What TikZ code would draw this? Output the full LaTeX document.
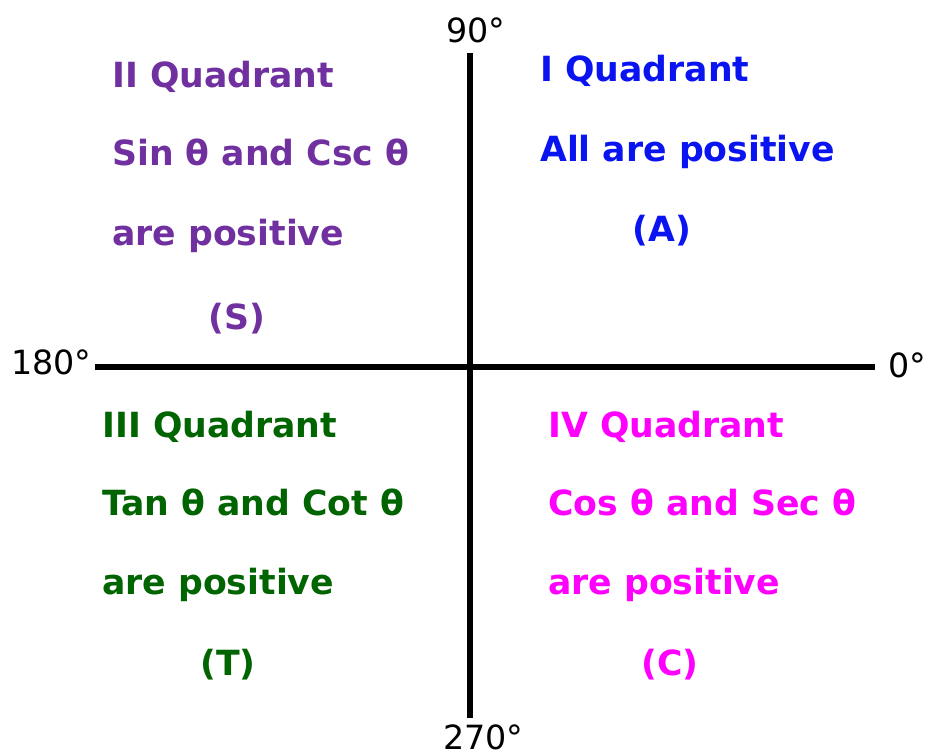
\documentclass[tikz,border=0pt]{standalone}
\usepackage{fontspec}
\setmainfont{DejaVu Sans}
\usetikzlibrary{positioning}
\definecolor{quadI}{RGB}{10,20,240}
\definecolor{quadII}{RGB}{112,48,160}
\definecolor{quadIII}{RGB}{0,100,0}
\definecolor{quadIV}{RGB}{255,0,255}

\begin{document}
\begin{tikzpicture}[x=0.75pt,y=-0.75pt,
          every node/.style={inner sep=0pt},
          axis/.style={line width=4.5pt},
          deg/.style={font=\fontsize{25}{30}\selectfont,anchor=base west},
          qtext/.style={font=\fontsize{26}{31}\selectfont\bfseries,anchor=base west},
        ]
        \useasboundingbox (0,0) rectangle (928,755);
        % axes
        \coordinate (top) at (470,53);
        \coordinate (bot) at (470,718);
        \coordinate (lft) at (95,367);
        \coordinate (rgt) at (875,367);
        \draw[axis] (top) -- (bot);
        \draw[axis] (lft) -- (rgt);
        \node[deg] (d90) at (446,43) {90°};
        \node[deg] (d270) at (443,749) {270°};
        \node[deg] (d180) at (11,375) {180°};
        \node[deg] (d0) at (888,378) {0°};
        % quadrant texts
        \foreach \n/\x/\y/\col/\txt in {
            q1a/540/82/quadI/I Quadrant,
            q1b/540/162/quadI/All are positive,
            q2a/112/88/quadII/II Quadrant,
            q2b/112/166/quadII/Sin θ and Csc θ,
            q2c/112/246/quadII/are positive,
            q3a/102/437/quadIII/III Quadrant,
            q3b/102/515/quadIII/Tan θ and Cot θ,
            q3c/102/594/quadIII/are positive,
            q4a/548/437/quadIV/IV Quadrant,
            q4b/548/515/quadIV/Cos θ and Sec θ,
            q4c/548/594/quadIV/are positive} {
          \node[qtext,text=\col] (\n) at (\x,\y) {\txt};
        }
        \node[qtext,anchor=base,text=quadI] (qA) at (662,242) {(A)};
        \node[qtext,anchor=base,text=quadII] (qS) at (237,330) {(S)};
        \node[qtext,anchor=base,text=quadIII] (qT) at (228,675) {(T)};
        \node[qtext,anchor=base,text=quadIV] (qC) at (670,675) {(C)};
      \end{tikzpicture}
\end{document}
